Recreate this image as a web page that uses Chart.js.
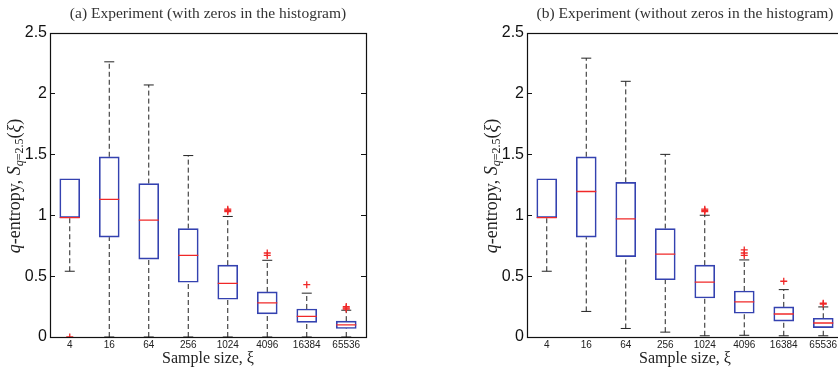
<!DOCTYPE html>
<html>
<head>
<meta charset="utf-8">
<script src="https://cdn.jsdelivr.net/npm/chart.js@4/dist/chart.umd.min.js"></script>
<style>
  body { margin: 0; width: 838px; height: 371px; overflow: hidden; background: #fff; position: relative; }
  .panel { position: absolute; top: 0; width: 420px; height: 371px; }
  #panelA { left: 0; }
  #panelB { left: 477px; }
</style>
</head>
<body>
<div class="panel" id="panelA"><canvas id="chartA" width="420" height="371"></canvas></div>
<div class="panel" id="panelB"><canvas id="chartB" width="420" height="371"></canvas></div>
<script>
// ---- DATOS ----
const sampleSizes = ['4', '16', '64', '256', '1024', '4096', '16384', '65536']
const yTicks = [0, 0.5, 1, 1.5, 2, 2.5]

// (a) con ceros en el histograma
const conQ1 = [0.98, 0.82, 0.64, 0.45, 0.31, 0.19, 0.12, 0.07]
const conMediana = [0.98, 1.13, 0.96, 0.67, 0.44, 0.28, 0.17, 0.10]
const conQ3 = [1.30, 1.48, 1.26, 0.89, 0.59, 0.37, 0.23, 0.13]
const conBigoteInf = [0.54, 0, 0, 0, 0, 0, 0, 0]
const conBigoteSup = [1.30, 2.26, 2.07, 1.49, 0.99, 0.63, 0.36, 0.22]
const conAtipicos = [[0], [], [], [], [1.03, 1.04, 1.05], [0.67, 0.69], [0.43], [0.23, 0.24, 0.25]]

// (b) sin ceros en el histograma
const sinQ1 = [0.98, 0.82, 0.66, 0.47, 0.32, 0.195, 0.13, 0.077]
const sinMediana = [0.98, 1.195, 0.97, 0.68, 0.45, 0.288, 0.189, 0.115]
const sinQ3 = [1.30, 1.48, 1.27, 0.89, 0.59, 0.378, 0.247, 0.154]
const sinBigoteInf = [0.54, 0.21, 0.07, 0.04, 0.01, 0.014, 0.01, 0.01]
const sinBigoteSup = [1.30, 2.29, 2.10, 1.50, 1.00, 0.633, 0.389, 0.247]
const sinAtipicos = [[], [], [], [], [1.03, 1.04, 1.05], [0.67, 0.69, 0.715], [0.458], [0.27, 0.277]]

const azul = 'rgb(52, 66, 176)'
const rojo = 'rgb(240, 40, 40)'
const fuenteSerif = "'Liberation Serif', 'DejaVu Serif', serif"
const fuenteSans = "'Liberation Sans', Arial, sans-serif"

// ---- MARCO DE LOS EJES Y TICKS HACIA ADENTRO (ESTILO MATLAB) ----
const marcoPlugin = {
  id: 'marco',
  afterDraw(chart) {
    const {ctx, chartArea: a, scales: {y}} = chart
    ctx.save()
    ctx.strokeStyle = '#111'
    ctx.lineWidth = 1.2
    ctx.strokeRect(Math.round(a.left) + 0.5, Math.round(a.top) + 0.5, Math.round(a.right - a.left), Math.round(a.bottom - a.top))
    ctx.lineWidth = 1
    yTicks.forEach(v => {
      const py = Math.round(y.getPixelForValue(v)) + 0.5
      ctx.beginPath()
      ctx.moveTo(a.left, py); ctx.lineTo(a.left + 5, py)
      ctx.moveTo(a.right, py); ctx.lineTo(a.right - 5, py)
      ctx.stroke()
    })
    ctx.restore()
  }
}

// ---- ETIQUETA DEL EJE Y CON SUBÍNDICE ----
const etiquetaYPlugin = {
  id: 'etiquetaY',
  afterDraw(chart) {
    const {ctx} = chart
    const piezas = [
      {t: 'q', f: `italic 18px ${fuenteSerif}`, dy: 0},
      {t: '-entropy, ', f: `18px ${fuenteSerif}`, dy: 0},
      {t: 'S', f: `italic 18px ${fuenteSerif}`, dy: 0},
      {t: 'q', f: `italic 12px ${fuenteSerif}`, dy: 5},
      {t: '=2.5', f: `12px ${fuenteSerif}`, dy: 5},
      {t: '(', f: `18px ${fuenteSerif}`, dy: 0},
      {t: 'ξ', f: `italic 18px ${fuenteSerif}`, dy: 0},
      {t: ')', f: `18px ${fuenteSerif}`, dy: 0}
    ]
    ctx.save()
    let total = 0
    piezas.forEach(p => { ctx.font = p.f; p.w = ctx.measureText(p.t).width; total += p.w })
    ctx.translate(15, 186)
    ctx.rotate(-Math.PI / 2)
    ctx.fillStyle = '#222'
    ctx.textBaseline = 'middle'
    let x = -total / 2
    piezas.forEach(p => {
      ctx.font = p.f
      ctx.fillText(p.t, x, p.dy)
      x += p.w
    })
    ctx.restore()
  }
}

// ---- ARMAR LOS DATASETS DEL BOXPLOT ----
function crearDatasets(q1, mediana, q3, bigInf, bigSup, atipicos) {
  const bigotes = []
  const topes = []
  const puntos = []
  sampleSizes.forEach((s, i) => {
    bigotes.push({x: s, y: bigInf[i]}, {x: s, y: q1[i]}, {x: s, y: null})
    bigotes.push({x: s, y: q3[i]}, {x: s, y: bigSup[i]}, {x: s, y: null})
    topes.push({x: s, y: bigInf[i]})
    // si el bigote coincide con el borde de la caja no se dibuja el tope
    if (bigSup[i] > q3[i]) topes.push({x: s, y: bigSup[i]})
    atipicos[i].forEach(v => puntos.push({x: s, y: v}))
  })
  return [
    {
      type: 'line', data: bigotes, order: 4,
      borderColor: '#222', borderWidth: 1, borderDash: [5, 3],
      pointRadius: 0, spanGaps: false, tension: 0, fill: false
    },
    {
      type: 'line', data: topes, order: 3, showLine: false,
      pointStyle: 'line', pointRadius: 5, borderColor: '#222', borderWidth: 1
    },
    {
      type: 'bar', data: q1.map((v, i) => [v, q3[i]]), order: 2,
      backgroundColor: 'rgba(0,0,0,0)', borderColor: azul, borderWidth: 1,
      borderSkipped: false, barThickness: 20
    },
    {
      type: 'line', data: sampleSizes.map((s, i) => ({x: s, y: mediana[i]})), order: 1, showLine: false,
      pointStyle: 'line', pointRadius: 10, borderColor: rojo, borderWidth: 1.3
    },
    {
      type: 'line', data: puntos, order: 0, showLine: false,
      pointStyle: 'cross', pointRadius: 3.5, borderColor: rojo, borderWidth: 1.3
    }
  ]
}

function crearGrafico(canvas, titulo, datasets) {
  return new Chart(canvas, {
    type: 'bar',
    data: { labels: sampleSizes, datasets: datasets },
    options: {
      responsive: false,
      animation: false,
      layout: { padding: { left: 0, right: 54, top: 0, bottom: 0 } },
      plugins: {
        legend: { display: false },
        tooltip: { enabled: false },
        title: {
          display: true, text: titulo, color: '#333', fullSize: false,
          font: { family: fuenteSerif, size: 15.5, weight: 'normal' },
          padding: { top: 5, bottom: 9 }
        }
      },
      scales: {
        x: {
          type: 'category', offset: true,
          grid: { display: false, drawTicks: false },
          border: { display: false },
          ticks: { color: '#222', font: { family: fuenteSans, size: 10 }, padding: 2, maxRotation: 0, autoSkip: false },
          title: {
            display: true, text: 'Sample size, ξ', color: '#222',
            font: { family: fuenteSerif, size: 16 }, padding: { top: 0, bottom: 3 }
          },
          afterFit(scale) { scale.height = 34 }
        },
        y: {
          min: 0, max: 2.5,
          grid: { display: false, drawTicks: false },
          border: { display: false },
          ticks: {
            stepSize: 0.5, color: '#111', font: { family: fuenteSans, size: 16 }, padding: 3,
            callback: v => String(v)
          },
          afterFit(scale) { scale.width = 50 }
        }
      }
    },
    plugins: [marcoPlugin, etiquetaYPlugin]
  })
}

crearGrafico(document.querySelector('#chartA'), '(a) Experiment (with zeros in the histogram)',
  crearDatasets(conQ1, conMediana, conQ3, conBigoteInf, conBigoteSup, conAtipicos))
crearGrafico(document.querySelector('#chartB'), '(b) Experiment (without zeros in the histogram)',
  crearDatasets(sinQ1, sinMediana, sinQ3, sinBigoteInf, sinBigoteSup, sinAtipicos))
</script>
</body>
</html>
